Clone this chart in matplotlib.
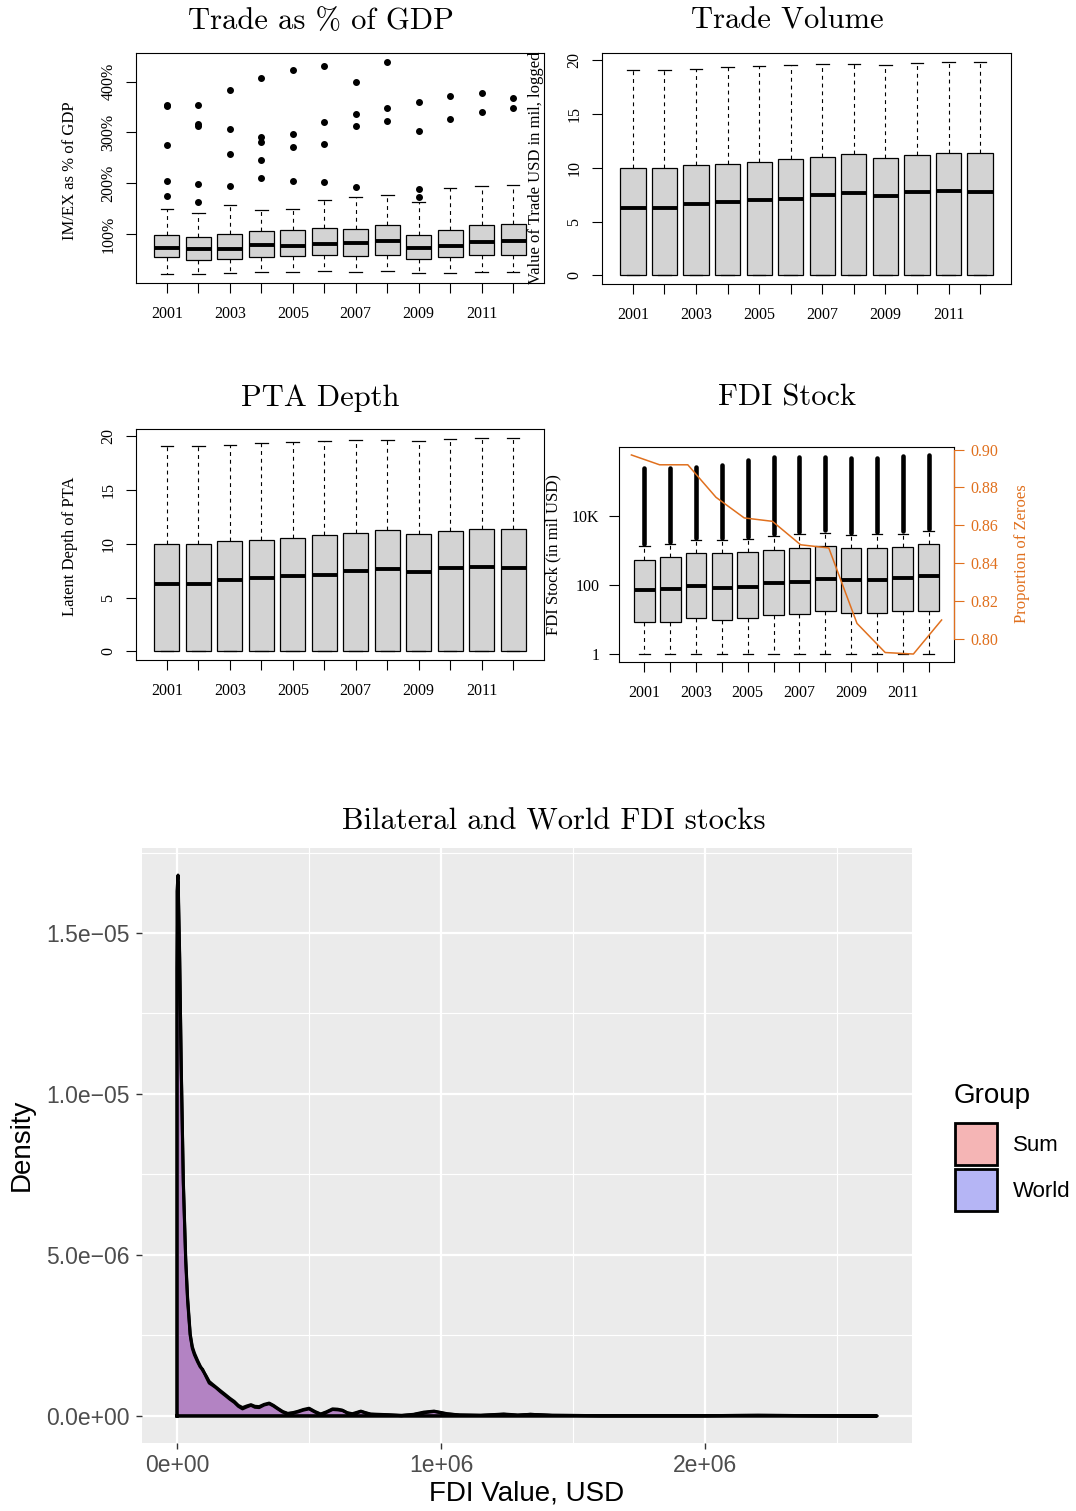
import matplotlib
matplotlib.use("Agg")
import matplotlib.pyplot as plt
from matplotlib.patches import Patch
import numpy as np

# ---- data ----
years = list(range(2001, 2013))

# Trade as % of GDP (fractions, 1.0 = 100%)
trade_gdp_q1 = [0.547, 0.494, 0.507, 0.534, 0.554, 0.574, 0.560, 0.574, 0.507, 0.534, 0.574, 0.587]
trade_gdp_med = [0.718, 0.705, 0.701, 0.777, 0.770, 0.810, 0.823, 0.850, 0.724, 0.764, 0.836, 0.862]
trade_gdp_q3 = [0.974, 0.941, 0.993, 1.059, 1.086, 1.112, 1.105, 1.170, 0.980, 1.079, 1.170, 1.190]
trade_gdp_lo = [0.199, 0.206, 0.219, 0.239, 0.245, 0.258, 0.245, 0.265, 0.219, 0.219, 0.239, 0.245]
trade_gdp_hi = [1.499, 1.414, 1.564, 1.466, 1.486, 1.663, 1.722, 1.768, 1.623, 1.900, 1.945, 1.971]
trade_gdp_out = [[3.54, 3.52, 2.753, 2.05, 1.748],
                 [3.54, 3.166, 3.127, 1.984, 1.623],
                 [3.835, 3.06, 2.568, 1.945],
                 [4.07, 2.91, 2.81, 2.456, 2.10],
                 [4.23, 2.97, 2.71, 2.044],
                 [4.308, 3.205, 2.771, 2.024],
                 [3.993, 3.37, 3.127, 1.925],
                 [4.40, 3.48, 3.226],
                 [3.60, 3.029, 1.886, 1.729],
                 [3.718, 3.258],
                 [3.77, 3.403],
                 [3.677, 3.48]]

# Trade volume (logged)
vol_q1 = [0, 0, 0, 0, 0, 0, 0, 0, 0, 0.05, 0, 0]
vol_med = [6.24, 6.30, 6.65, 6.80, 7.05, 7.14, 7.52, 7.70, 7.42, 7.76, 7.83, 7.80]
vol_q3 = [10.03, 10.03, 10.25, 10.40, 10.59, 10.81, 11.02, 11.27, 10.93, 11.21, 11.37, 11.37]
vol_lo = [0, 0, 0, 0, 0, 0, 0, 0, 0, 0, 0, 0]
vol_hi = [19.13, 19.13, 19.19, 19.35, 19.44, 19.53, 19.66, 19.66, 19.57, 19.75, 19.84, 19.88]

# PTA depth
pta_q1 = [0, 0, 0, 0, 0, 0, 0, 0, 0, 0.05, 0, 0]
pta_med = [6.24, 6.30, 6.65, 6.80, 7.05, 7.14, 7.52, 7.70, 7.42, 7.76, 7.83, 7.80]
pta_q3 = [10.03, 10.03, 10.25, 10.40, 10.59, 10.81, 11.02, 11.27, 10.93, 11.21, 11.37, 11.37]
pta_lo = [0, 0, 0, 0, 0, 0, 0, 0, 0, 0, 0, 0]
pta_hi = [19.13, 19.13, 19.19, 19.35, 19.44, 19.53, 19.66, 19.66, 19.57, 19.75, 19.84, 19.88]

# FDI stock, log10 of mil USD
fdi_q1 = [0.93, 0.93, 1.03, 0.98, 1.03, 1.13, 1.16, 1.24, 1.19, 1.19, 1.24, 1.24]
fdi_med = [1.85, 1.88, 1.965, 1.90, 1.95, 2.06, 2.09, 2.18, 2.13, 2.15, 2.21, 2.26]
fdi_q3 = [2.725, 2.80, 2.915, 2.906, 2.935, 3.01, 3.07, 3.12, 3.05, 3.06, 3.08, 3.19]
fdi_lo = [0, 0, 0, 0, 0, 0, 0, 0, 0, 0, 0, 0]
fdi_hi = [3.11, 3.19, 3.28, 3.28, 3.32, 3.42, 3.47, 3.51, 3.45, 3.47, 3.48, 3.56]
fdi_max = [5.36, 5.38, 5.41, 5.46, 5.60, 5.68, 5.68, 5.69, 5.67, 5.65, 5.72, 5.75]
zero_prop = [0.8972, 0.892, 0.892, 0.8748, 0.8639, 0.8621, 0.8497, 0.848, 0.8081, 0.7927, 0.7919, 0.8099]

# density of FDI values (x in mil USD, density in 1e-6)
dens_x = [0, 0.004, 0.010, 0.016, 0.024, 0.033, 0.040, 0.050, 0.058, 0.066, 0.078, 0.088, 0.097,
          0.110, 0.122, 0.135, 0.147, 0.165, 0.185, 0.200, 0.217, 0.232, 0.248, 0.264, 0.280,
          0.295, 0.311, 0.330, 0.349, 0.365, 0.381, 0.400, 0.419, 0.437, 0.456, 0.478, 0.500,
          0.522, 0.544, 0.566, 0.589, 0.608, 0.626, 0.645, 0.664, 0.680, 0.696, 0.715, 0.733,
          0.765, 0.797, 0.850, 0.895, 0.935, 0.973, 1.023, 1.070, 1.150, 1.237, 1.290, 1.338,
          1.420, 1.600, 1.800, 2.000, 2.200, 2.400, 2.650]
dens_sum = [13.9, 16.6, 14.2, 10.9, 7.3, 4.9, 3.7, 2.55, 2.15, 1.95, 1.72, 1.55, 1.42,
            1.25, 1.07, 0.98, 0.90, 0.78, 0.65, 0.55, 0.45, 0.33, 0.26, 0.31, 0.35,
            0.30, 0.29, 0.36, 0.40, 0.33, 0.24, 0.14, 0.08, 0.10, 0.14, 0.20, 0.24,
            0.14, 0.06, 0.13, 0.22, 0.21, 0.18, 0.10, 0.07, 0.11, 0.15, 0.10, 0.06,
            0.05, 0.04, 0.02, 0.05, 0.12, 0.15, 0.07, 0.03, 0.02, 0.06, 0.03, 0.05,
            0.02, 0.01, 0.01, 0.01, 0.02, 0.01, 0.0]
dens_world = [16.3, 16.8, 14.35, 10.8, 7.2, 4.8, 3.6, 2.5, 2.1, 1.90, 1.68, 1.52, 1.45,
              1.22, 1.02, 0.95, 0.88, 0.75, 0.62, 0.52, 0.42, 0.30, 0.22, 0.28, 0.33,
              0.27, 0.26, 0.34, 0.38, 0.31, 0.22, 0.12, 0.07, 0.09, 0.12, 0.18, 0.22,
              0.12, 0.05, 0.11, 0.20, 0.19, 0.17, 0.09, 0.05, 0.09, 0.14, 0.09, 0.05,
              0.04, 0.03, 0.01, 0.04, 0.10, 0.14, 0.06, 0.03, 0.02, 0.05, 0.02, 0.05,
              0.02, 0.01, 0.01, 0.01, 0.02, 0.01, 0.0]

W, H = 1076, 1511
ORANGE = "#E0701E"
plt.rcParams['font.family'] = ['Liberation Serif', 'DejaVu Serif']

fig = plt.figure(figsize=(W / 100, H / 100), dpi=100)


def px_axes(x0, y0, x1, y1):
    return fig.add_axes([x0 / W, 1 - y1 / H, (x1 - x0) / W, (y1 - y0) / H])


def px_text(x, y, s, ha='center', **kw):
    fig.text(x / W, 1 - y / H, s, ha=ha, va='center', **kw)


def r_lim(lo, hi):
    # R pads the data range by 4% on both sides
    pad = 0.04 * (hi - lo)
    return lo - pad, hi + pad


def r_box(ax, q1, med, q3, lo, hi, fliers=None):
    stats = []
    for i in range(len(years)):
        stats.append(dict(q1=q1[i], med=med[i], q3=q3[i], whislo=lo[i], whishi=hi[i],
                          fliers=fliers[i] if fliers else []))
    pos = np.arange(1, len(years) + 1)
    ax.bxp(stats, positions=pos, widths=0.8, patch_artist=True, manage_ticks=False,
           capwidths=0.4,
           boxprops=dict(facecolor='#D3D3D3', edgecolor='black', linewidth=0.9),
           medianprops=dict(color='black', linewidth=2.8, solid_capstyle='butt'),
           whiskerprops=dict(color='black', linewidth=0.8, linestyle=(0, (3.5, 3.5))),
           capprops=dict(color='black', linewidth=0.9),
           flierprops=dict(marker='o', markersize=4, markerfacecolor='black',
                           markeredgecolor='black'))
    ax.set_xlim(0.02, 12.98)
    ax.set_xticks(pos)
    ax.set_xticklabels([str(y) if y % 2 == 1 else '' for y in years])
    ax.tick_params(direction='out', length=7, width=0.8, labelsize=11.5, pad=7)
    ax.tick_params(axis='x', pad=9.5)
    for sp in ax.spines.values():
        sp.set_linewidth(0.8)


def rotate_y(ax):
    ax.tick_params(axis='y', labelrotation=90)
    for lab in ax.get_yticklabels():
        lab.set_va('center')


# ---- panel 1: trade as % of GDP ----
ax1 = px_axes(136, 53, 544, 283)
r_box(ax1, trade_gdp_q1, trade_gdp_med, trade_gdp_q3, trade_gdp_lo, trade_gdp_hi, trade_gdp_out)
all_gdp = trade_gdp_lo + [v for o in trade_gdp_out for v in o]
ax1.set_ylim(*r_lim(min(all_gdp), max(all_gdp)))
ax1.set_yticks([1, 2, 3, 4])
ax1.set_yticklabels(['100%', '200%', '300%', '400%'])
rotate_y(ax1)
px_text(321, 21, 'Trade as % of GDP', fontsize=22, family='cmr10')
px_text(70, 171, 'IM/EX as % of GDP', fontsize=12, rotation=90)

# ---- panel 2: trade volume ----
ax2 = px_axes(602, 53, 1011, 284)
r_box(ax2, vol_q1, vol_med, vol_q3, vol_lo, vol_hi)
ax2.set_ylim(*r_lim(min(vol_lo), max(vol_hi)))
ax2.set_yticks([0, 5, 10, 15, 20])
rotate_y(ax2)
px_text(787, 21, 'Trade Volume', fontsize=22, family='cmr10')
px_text(536, 168, 'Value of Trade USD in mil, logged', fontsize=12, rotation=90)

# ---- panel 3: PTA depth ----
ax3 = px_axes(136, 429, 544, 660)
r_box(ax3, pta_q1, pta_med, pta_q3, pta_lo, pta_hi)
ax3.set_ylim(*r_lim(min(pta_lo), max(pta_hi)))
ax3.set_yticks([0, 5, 10, 15, 20])
rotate_y(ax3)
px_text(320, 398, 'PTA Depth', fontsize=22, family='cmr10')
px_text(70, 546, 'Latent Depth of PTA', fontsize=12, rotation=90)

# ---- panel 4: FDI stock with proportion of zeroes ----
ax4 = px_axes(619, 447, 954, 662)
r_box(ax4, fdi_q1, fdi_med, fdi_q3, fdi_lo, fdi_hi)
# the many outliers overlap into a solid strip of points
for i in range(len(years)):
    ax4.plot([i + 1, i + 1], [fdi_hi[i] + 0.06, fdi_max[i]], color='black', lw=3.3,
             solid_capstyle='round')
ax4.set_ylim(*r_lim(min(fdi_lo), max(fdi_max)))
ax4.set_yticks([0, 2, 4])
ax4.set_yticklabels(['1', '100', '10K'])
px_text(787, 398, 'FDI Stock', fontsize=22, family='cmr10')
px_text(553, 555, 'FDI Stock (in mil USD)', fontsize=12, rotation=90)

ax4b = px_axes(619, 447, 954, 662)
ax4b.patch.set_visible(False)
ax4b.plot(np.arange(1, len(years) + 1), zero_prop, color=ORANGE, lw=1.1)
ax4b.set_xlim(*r_lim(1, len(years)))
ax4b.set_ylim(*r_lim(min(zero_prop), max(zero_prop)))
ax4b.set_xticks([])
for side in ['left', 'top', 'bottom']:
    ax4b.spines[side].set_visible(False)
ax4b.spines['right'].set_bounds(0.80, 0.90)
ax4b.spines['right'].set_color(ORANGE)
ax4b.spines['right'].set_linewidth(0.9)
ax4b.yaxis.tick_right()
ax4b.set_yticks([0.80, 0.82, 0.84, 0.86, 0.88, 0.90])
ax4b.set_yticklabels(['0.80', '0.82', '0.84', '0.86', '0.88', '0.90'])
ax4b.tick_params(axis='y', direction='out', length=7, width=0.8, colors=ORANGE,
                 labelsize=11.5, pad=5)
px_text(1022, 554, 'Proportion of Zeroes', fontsize=12, rotation=90, color=ORANGE)

# ---- bottom: density plot (ggplot look) ----
axd = px_axes(142, 848, 912, 1443)
axd.set_facecolor('#EBEBEB')
for sp in axd.spines.values():
    sp.set_visible(False)
xs = np.array(dens_x) * 1e6
for dens, col in [(dens_sum, 'red'), (dens_world, 'blue')]:
    px = np.r_[xs[0], xs, xs[-1]]
    py = np.r_[0, np.array(dens) * 1e-6, 0]
    axd.fill(px, py, facecolor=col, alpha=0.25, edgecolor='none', zorder=2)
    axd.plot(np.r_[px, px[0]], np.r_[py, py[0]], color='black', lw=2.2, zorder=3,
             solid_joinstyle='round')

xr = xs[-1] - xs[0]
axd.set_xlim(xs[0] - 0.05 * xr, xs[-1] + 0.05 * xr)
ymax = max(max(dens_sum), max(dens_world)) * 1e-6
axd.set_ylim(-0.05 * ymax, ymax * 1.05)
axd.set_xticks([0, 1e6, 2e6])
axd.set_xticklabels(['0e+00', '1e+06', '2e+06'])
axd.set_xticks([0.5e6, 1.5e6, 2.5e6], minor=True)
axd.set_yticks([0, 5e-6, 1e-5, 1.5e-5])
axd.set_yticklabels(['0.0e+00', '5.0e\u221206', '1.0e\u221205', '1.5e\u221205'])
axd.set_yticks([2.5e-6, 7.5e-6, 1.25e-5, 1.75e-5], minor=True)
axd.set_axisbelow(True)
axd.grid(which='major', color='white', lw=1.6)
axd.grid(which='minor', color='white', lw=0.8)
axd.tick_params(which='major', length=4, width=1.0, color='#333333', labelcolor='#4D4D4D',
                labelsize=16.5, labelfontfamily='Liberation Sans')
axd.tick_params(axis='y', pad=5)
axd.tick_params(axis='x', pad=4)
axd.tick_params(which='minor', length=0)

px_text(554, 822, 'Bilateral and World FDI stocks', fontsize=22, family='cmr10')
px_text(22, 1145, 'Density', fontsize=20, rotation=90, family='Liberation Sans')
px_text(527, 1494, 'FDI Value, USD', fontsize=20, family='Liberation Sans')

# legend
px_text(954, 1096, 'Group', ha='left', fontsize=20, family='Liberation Sans')
handles = [Patch(facecolor='#F5B5B5', edgecolor='black', lw=2),
           Patch(facecolor='#B5B5F5', edgecolor='black', lw=2)]
fig.legend(handles, ['Sum', 'World'], loc='upper left',
           bbox_to_anchor=(955 / W, 1 - 1123 / H), frameon=False,
           prop={'family': 'Liberation Sans', 'size': 16},
           handlelength=1.89, handleheight=2.5, labelspacing=0.2,
           handletextpad=0.7, borderpad=0, borderaxespad=0)

fig.savefig('out.png', dpi=100)
